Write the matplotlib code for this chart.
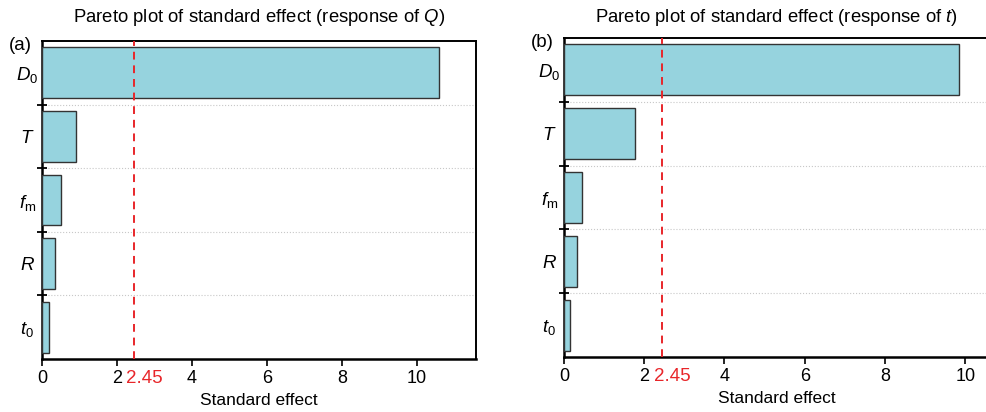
import matplotlib
matplotlib.use('Agg')
import matplotlib.pyplot as plt
import matplotlib.transforms as mtransforms

plt.rcParams['font.family'] = ['Liberation Sans', 'DejaVu Sans']
plt.rcParams['mathtext.fontset'] = 'custom'
plt.rcParams['mathtext.rm'] = 'Liberation Sans'
plt.rcParams['mathtext.it'] = 'Liberation Sans:italic'

factors = [r'$D_\mathrm{0}$', r'$T$', r'$f_\mathrm{m}$', r'$R$', r'$t_\mathrm{0}$']
effect_Q = [10.57, 0.90, 0.50, 0.35, 0.19]
effect_t = [9.85, 1.78, 0.45, 0.33, 0.15]
critical = 2.45
xticks = [0, 2, 4, 6, 8, 10]

bar_color = '#96d3de'
edge_color = '#333333'


def pareto(fig, ax, values, xmax, title, tag):
    n = len(values)
    pos = list(range(n))
    ax.barh(pos, values, height=0.8, color=bar_color, edgecolor=edge_color,
            linewidth=1.0, zorder=3)
    ax.set_ylim(n - 0.5, -0.5)
    ax.set_xlim(0, xmax)
    # band boundaries -> major ticks + dotted grid
    bounds = [i + 0.5 for i in range(n - 1)]
    ax.set_yticks(bounds)
    ax.set_yticklabels([])
    ax.tick_params(axis='y', which='major', direction='inout', length=7, width=1.3)
    ax.set_yticks(pos, factors, minor=True)
    ax.tick_params(axis='y', which='minor', length=0, labelsize=13.5, pad=10.5)
    for lab in ax.get_yticklabels(minor=True):
        lab.set_horizontalalignment('center')
    ax.yaxis.grid(True, which='major', linestyle=':', color='#c8c8c8', linewidth=0.8)
    ax.set_xticks(xticks)
    ax.tick_params(axis='x', direction='out', length=5, width=1.2, labelsize=13, pad=3)
    ax.axvline(critical, color='#e8262a', linestyle=(0, (4, 3)), linewidth=1.4, zorder=4)
    trans = mtransforms.blended_transform_factory(ax.transData, ax.transAxes)
    ax.annotate(f'{critical}', xy=(critical, 0), xycoords=trans,
                xytext=(-6, -8), textcoords='offset points',
                ha='left', va='top', color='#e8262a', fontsize=13.5)
    ax.set_xlabel('Standard effect', fontsize=12.5, labelpad=4)
    bb = ax.get_position()
    fig.text((bb.x0 + bb.x1) / 2, 1 - 18 / 412, title, ha='center', va='center',
             fontsize=13.3)
    ax.text(-0.05, 0.985, tag, transform=ax.transAxes, ha='center', va='center', fontsize=13.5)
    for side in ['left', 'bottom']:
        ax.spines[side].set_linewidth(1.8)
    for side in ['top', 'right']:
        ax.spines[side].set_linewidth(1.4)


fig = plt.figure(figsize=(9.87, 4.12), dpi=100)
ax1 = fig.add_axes([0.0426, 0.1286, 0.4397, 0.7718])
ax2 = fig.add_axes([0.5714, 0.1335, 0.4310, 0.7743])

pareto(fig, ax1, effect_Q, 11.57, r'Pareto plot of standard effect (response of $Q$)', '(a)')
pareto(fig, ax2, effect_t, 10.6, r'Pareto plot of standard effect (response of $t$)', '(b)')

fig.savefig('out.png', dpi=100)
